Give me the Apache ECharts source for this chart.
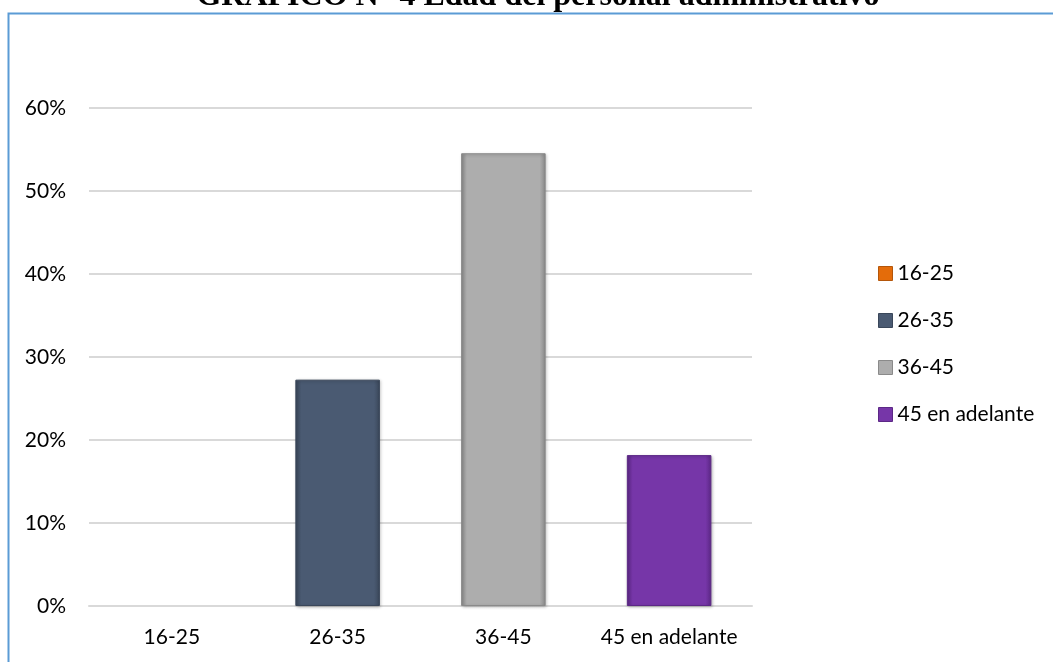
<!DOCTYPE html>
<html>
<head>
<meta charset="utf-8">
<script src="https://cdn.jsdelivr.net/npm/echarts@6/dist/echarts.min.js"></script>
<style>
html,body{margin:0;padding:0;background:#fff;}
#chart{width:1053px;height:662px;}
</style>
</head>
<body>
<div id="chart"></div>
<script>
const titleText = 'GRAFICO N° 4 Edad del personal administrativo';
const categories = ['16-25', '26-35', '36-45', '45 en adelante'];
const values = [0, 0.2727, 0.5455, 0.1818];
const yTicks = [0, 0.1, 0.2, 0.3, 0.4, 0.5, 0.6];
const colors = ['#e46c0a', '#4a5a72', '#adadad', '#7636a8'];
const edges = ['#b4560a', '#3a475a', '#8a8a8a', '#5c2886'];

const chart = echarts.init(document.getElementById('chart'));
const font = 'Lato, "Open Sans", sans-serif';

function barFill(i) {
  return new echarts.graphic.LinearGradient(0, 0, 1, 0, [
    { offset: 0, color: edges[i] },
    { offset: 0.07, color: colors[i] },
    { offset: 0.93, color: colors[i] },
    { offset: 1, color: edges[i] }
  ]);
}

const series = categories.map((c, i) => ({
  name: c,
  type: 'bar',
  stack: 'all',
  barWidth: '51%',
  data: categories.map((_, j) => j === i ? values[i] : '-'),
  itemStyle: {
    color: values[i] === 0 ? 'rgba(0,0,0,0)' : barFill(i),
    borderColor: values[i] === 0 ? 'rgba(0,0,0,0)' : edges[i],
    borderWidth: 1,
    shadowColor: values[i] === 0 ? 'rgba(0,0,0,0)' : 'rgba(0,0,0,0.25)',
    shadowBlur: 3,
    shadowOffsetX: 1,
    shadowOffsetY: 1
  }
}));

chart.setOption({
  animation: false,
  backgroundColor: '#fff',
  color: colors,
  graphic: [
    {
      type: 'polyline',
      shape: { points: [[8.5, 662], [8.5, 13.5], [1053, 13.5]] },
      style: { stroke: '#5b9bd5', lineWidth: 2, fill: null },
      z: 10
    },
    {
      type: 'text',
      style: {
        text: titleText,
        x: 538, y: 13,
        textAlign: 'center',
        textVerticalAlign: 'bottom',
        font: 'bold 32px "Liberation Serif", "Times New Roman", serif',
        fill: '#000'
      }
    }
  ],
  legend: {
    orient: 'vertical',
    left: 873,
    top: 258,
    itemWidth: 14,
    itemHeight: 14,
    itemGap: 26,
    icon: 'rect',
    selectedMode: false,
    data: categories.map((c, i) => ({
      name: c,
      itemStyle: { color: colors[i], borderColor: edges[i], borderWidth: 1 }
    })),
    textStyle: { fontFamily: font, fontSize: 21, color: '#000' }
  },
  grid: { left: 89, right: 301, top: 108, bottom: 56, containLabel: false },
  xAxis: {
    type: 'category',
    data: categories,
    axisLine: { show: true, lineStyle: { color: '#d9d9d9', width: 2 } },
    axisTick: { show: false },
    axisLabel: { fontFamily: font, fontSize: 21, color: '#000', margin: 21, interval: 0, hideOverlap: false }
  },
  yAxis: {
    type: 'value',
    min: yTicks[0],
    max: yTicks[yTicks.length - 1],
    interval: 0.1,
    axisLine: { show: false },
    axisTick: { show: false },
    splitLine: { lineStyle: { color: '#d9d9d9', width: 2 } },
    axisLabel: {
      fontFamily: font, fontSize: 21, color: '#000', margin: 23,
      formatter: v => Math.round(v * 100) + '%'
    }
  },
  series: series
});
</script>
</body>
</html>
